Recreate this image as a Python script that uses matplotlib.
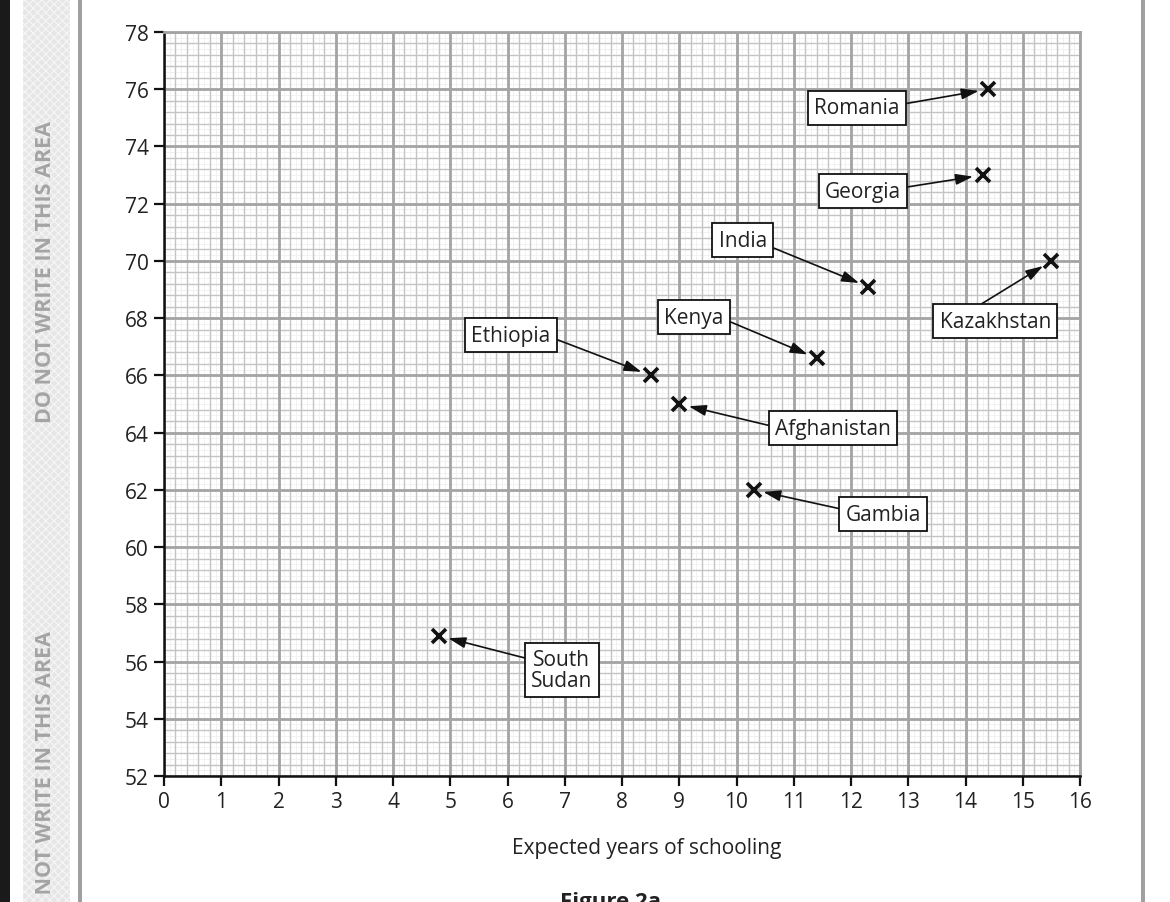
import matplotlib
matplotlib.use("Agg")
import matplotlib.pyplot as plt
from matplotlib.patches import Rectangle
import numpy as np

# ---- data ----
countries = ["Romania", "Georgia", "India", "Kazakhstan", "Kenya",
             "Ethiopia", "Afghanistan", "Gambia", "South\nSudan"]
schooling = [14.4, 14.3, 12.3, 15.5, 11.4, 8.5, 9.0, 10.3, 4.8]
life_expectancy = [76.0, 73.0, 69.1, 70.0, 66.6, 66.0, 65.0, 62.0, 56.9]
x_ticks = list(range(0, 17))
y_ticks = list(range(52, 79, 2))

# label box centres and arrow start points on the box (layout)
label_pos = [(12.10, 75.35), (12.21, 72.44), (10.11, 70.73), (14.52, 67.90),
             (9.26, 68.04), (6.06, 67.41), (11.69, 64.16), (12.56, 61.15),
             (6.95, 55.70)]
arrow_rel = [(1, 0.65), (1, 0.65), (1, 0.25), (0.28, 1), (1, 0.4),
             (1, 0.4), (0, 0.55), (0, 0.7), (0, 0.75)]

plt.rcParams['font.family'] = ['Open Sans', 'DejaVu Sans']

W, H = 1170, 903
fig = plt.figure(figsize=(W / 100, H / 100), dpi=100)
ax = fig.add_axes([164 / W, 1 - 777 / H, (1080 - 164) / W, (777 - 33) / H])

ax.set_xlim(0, 16)
ax.set_ylim(52, 78)

# graph-paper grid
for v in np.arange(0, 16.001, 0.1):
    ax.axvline(v, color='#ededed', lw=0.5, zorder=0)
for v in np.arange(52, 78.001, 0.2):
    ax.axhline(v, color='#ededed', lw=0.5, zorder=0)
for v in np.arange(0, 16.001, 0.2):
    ax.axvline(v, color='#c4c4c4', lw=1.0, zorder=0.5)
for v in np.arange(52, 78.001, 0.4):
    ax.axhline(v, color='#c4c4c4', lw=1.0, zorder=0.5)
for v in x_ticks:
    ax.axvline(v, color='#a4a4a4', lw=2.0, zorder=0.8)
for v in y_ticks:
    ax.axhline(v, color='#a4a4a4', lw=2.0, zorder=0.8)

ax.set_xticks(x_ticks)
ax.set_yticks(y_ticks)
ax.tick_params(axis='both', direction='out', length=7, width=1.6,
               labelsize=15, color='#111111', labelcolor='#222222', pad=4)
for s in ['left', 'bottom']:
    ax.spines[s].set_color('#111111')
    ax.spines[s].set_linewidth(1.8)
for s in ['top', 'right']:
    ax.spines[s].set_color('#a4a4a4')
    ax.spines[s].set_linewidth(2.0)

ax.set_xlabel("Expected years of schooling", fontsize=15, color='#222222')
ax.xaxis.set_label_coords(0.527, -0.082)

ax.plot(schooling, life_expectancy, linestyle='none', marker='x',
        markersize=10, markeredgewidth=2.6, color='#111111', zorder=5)

for name, x, y, (lx, ly), rel in zip(countries, schooling, life_expectancy,
                                      label_pos, arrow_rel):
    ax.annotate(name, xy=(x, y), xytext=(lx, ly), ha='center', va='center',
                fontsize=15, color='#222222', linespacing=1.0,
                bbox=dict(boxstyle='square,pad=0.3', fc='white', ec='#111111', lw=1.3),
                arrowprops=dict(arrowstyle='-|>,head_length=0.7,head_width=0.22',
                                color='#111111', lw=1.2, shrinkA=0, shrinkB=7,
                                relpos=rel),
                zorder=6)

# page decorations
fig.patches.append(Rectangle((0, 0), 10 / W, 1, transform=fig.transFigure,
                             fc='#1a1a1a', ec='none'))
fig.patches.append(Rectangle((23 / W, 0), 47 / W, 1, transform=fig.transFigure,
                             fc='#e6e6e6', ec='#f4f4f4', hatch='xxxx', lw=0))
fig.patches.append(Rectangle((78 / W, 0), 4 / W, 1, transform=fig.transFigure,
                             fc='#a0a0a0', ec='none'))
fig.patches.append(Rectangle((1141 / W, 0), 4 / W, 1, transform=fig.transFigure,
                             fc='#a0a0a0', ec='none'))
fig.text(46 / W, 1 - 272 / H, "DO NOT WRITE IN THIS AREA", rotation=90,
         ha='center', va='center', fontsize=15.5, fontweight='bold', color='#a4a4a4')
fig.text(46 / W, 1 - 782 / H, "DO NOT WRITE IN THIS AREA", rotation=90,
         ha='center', va='center', fontsize=15.5, fontweight='bold', color='#a4a4a4')
fig.text(610 / W, 1 - 892 / H, "Figure 2a", ha='center', va='top',
         fontsize=16, fontweight='bold', color='#222222')

fig.savefig("out.png", dpi=100)
